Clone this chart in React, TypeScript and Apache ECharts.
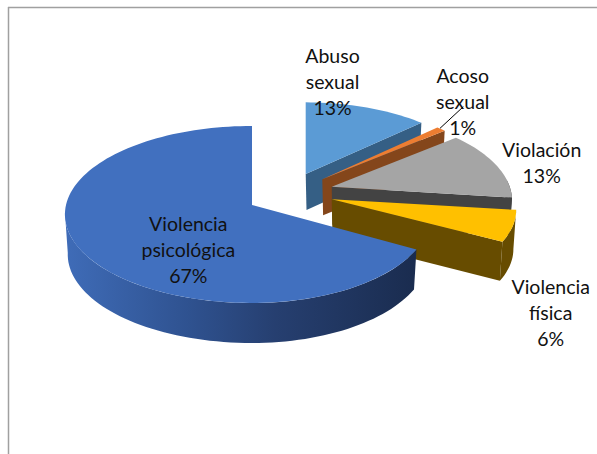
import React, { useEffect, useRef } from "react";
import * as echarts from "echarts";

const categories = ["Abuso sexual", "Acoso sexual", "Violación", "Violencia física", "Violencia psicológica"];
const values = [13, 1, 13, 6, 67];

const topColors = ["#5b9bd5", "#ed7d31", "#a5a5a5", "#ffc000", "#4170bf"];
const wallColors = ["#355f85", "#84461b", "#434343", "#674c00", "#1f3864"];
const mainWallStops = [
  { offset: 0, color: "#3f6cb8" },
  { offset: 0.35, color: "#2f5290" },
  { offset: 0.6, color: "#263f70" },
  { offset: 1, color: "#1a2c4f" },
];

// Exploded-slice placement and projection of each slice of the 3D pie
const sliceLayout = [
  { x: 305.7, y: 174, aL: 175, aR: 175, b: 82.4, k: 0.15, depth: 36 },
  { x: 322.3, y: 179.3, aL: 174, aR: 174, b: 83.4, k: 0.15, depth: 36 },
  { x: 331.7, y: 186.7, aL: 178, aR: 178, b: 85, k: 0.164, depth: 38 },
  { x: 331.7, y: 199.3, aL: 183, aR: 183, b: 83, k: 0.126, depth: 39 },
  { x: 252, y: 205, aL: 186, aR: 178, b: 87.5, k: 0.107, depth: 40 },
];
const labelLayout = [
  { x: 332.5, y: 81.5 },
  { x: 462.7, y: 101.5 },
  { x: 541.7, y: 162.5 },
  { x: 550.7, y: 312 },
  { x: 188.3, y: 249.7 },
];
const leaderLine = { x1: 463.3, y1: 106.7, x2: 440, y2: 128.3 };
const FONT = "Lato";

type G = (typeof sliceLayout)[number];

function project(g: G, deg: number, lower: boolean): number[] {
  const t = (deg * Math.PI) / 180;
  const u = Math.sin(t);
  const v = -Math.cos(t);
  const d = 1 - g.k * v;
  const a = u < 0 ? g.aL : g.aR;
  const s = lower ? 0.985 : 1;
  return [g.x + (a * u * s) / d, g.y + (g.b * v) / d + (lower ? g.depth : 0)];
}

function arc(g: G, from: number, to: number, lower: boolean): number[][] {
  const n = Math.max(2, Math.ceil((to - from) / 2));
  const pts: number[][] = [];
  for (let i = 0; i <= n; i++) pts.push(project(g, from + ((to - from) * i) / n, lower));
  return pts;
}

const total = values.reduce((s, v) => s + v, 0);

export default function App() {
  const ref = useRef<HTMLDivElement>(null);
  useEffect(() => {
    const chart = echarts.init(ref.current!, undefined, { renderer: "svg" });
    chart.setOption({
      animation: false,
      backgroundColor: "#ffffff",
      graphic: [
        { type: "line", silent: true, shape: { x1: 8, y1: 7.5, x2: 597, y2: 7.5 }, style: { stroke: "#a0a0a0", lineWidth: 1.5 } },
        { type: "line", silent: true, shape: { x1: 8.5, y1: 7, x2: 8.5, y2: 454 }, style: { stroke: "#a0a0a0", lineWidth: 1.5 } },
      ],
      series: [
        {
          type: "custom",
          coordinateSystem: "none",
          silent: true,
          z: 2,
          data: values.map((v) => [v]),
          renderItem: (params: any, api: any) => {
            const i = params.dataIndex;
            const g = sliceLayout[i];
            const before = values.slice(0, i).reduce((s, v) => s + v, 0);
            const start = (before / total) * 360;
            const end = ((before + Number(api.value(0))) / total) * 360;
            const children: any[] = [];
            const wallFill =
              i === 4
                ? new echarts.graphic.LinearGradient(0, 0, 1, 0, mainWallStops)
                : wallColors[i];
            const ws = Math.max(start, 85);
            const we = Math.min(end, 265);
            if (ws < we) {
              children.push({
                type: "polygon",
                shape: { points: [...arc(g, ws, we, false), ...arc(g, ws, we, true).reverse()] },
                style: { fill: wallFill },
              });
            }
            if (end < 180) {
              const apexTop = [g.x, g.y];
              const apexLow = [g.x + 0.8, g.y + g.depth];
              children.push({
                type: "polygon",
                shape: { points: [apexTop, project(g, end, false), project(g, end, true), apexLow] },
                style: { fill: wallColors[i] },
              });
            }
            children.push({
              type: "polygon",
              shape: { points: [[g.x, g.y], ...arc(g, start, end, false)] },
              style: { fill: topColors[i] },
            });
            return { type: "group", children };
          },
        },
        {
          type: "custom",
          coordinateSystem: "none",
          silent: true,
          z: 3,
          data: values.map((v) => [v]),
          renderItem: (params: any, api: any) => {
            const i = params.dataIndex;
            const p = labelLayout[i];
            const children: any[] = [
              {
                type: "text",
                style: {
                  text: `${categories[i].replace(" ", "\n")}\n${api.value(0)}%`,
                  x: p.x,
                  y: p.y,
                  align: "center",
                  verticalAlign: "middle",
                  fontFamily: FONT,
                  fontSize: 19.5,
                  lineHeight: 26,
                  fill: "#111111",
                },
              },
            ];
            if (i === 1) {
              children.push({
                type: "line",
                shape: leaderLine,
                style: { stroke: "#000000", lineWidth: 1 },
              });
            }
            return { type: "group", children };
          },
        },
      ],
    });
    return () => chart.dispose();
  }, []);
  return <div ref={ref} style={{ position: "absolute", left: 0, top: 0, width: 597, height: 454 }} />;
}
